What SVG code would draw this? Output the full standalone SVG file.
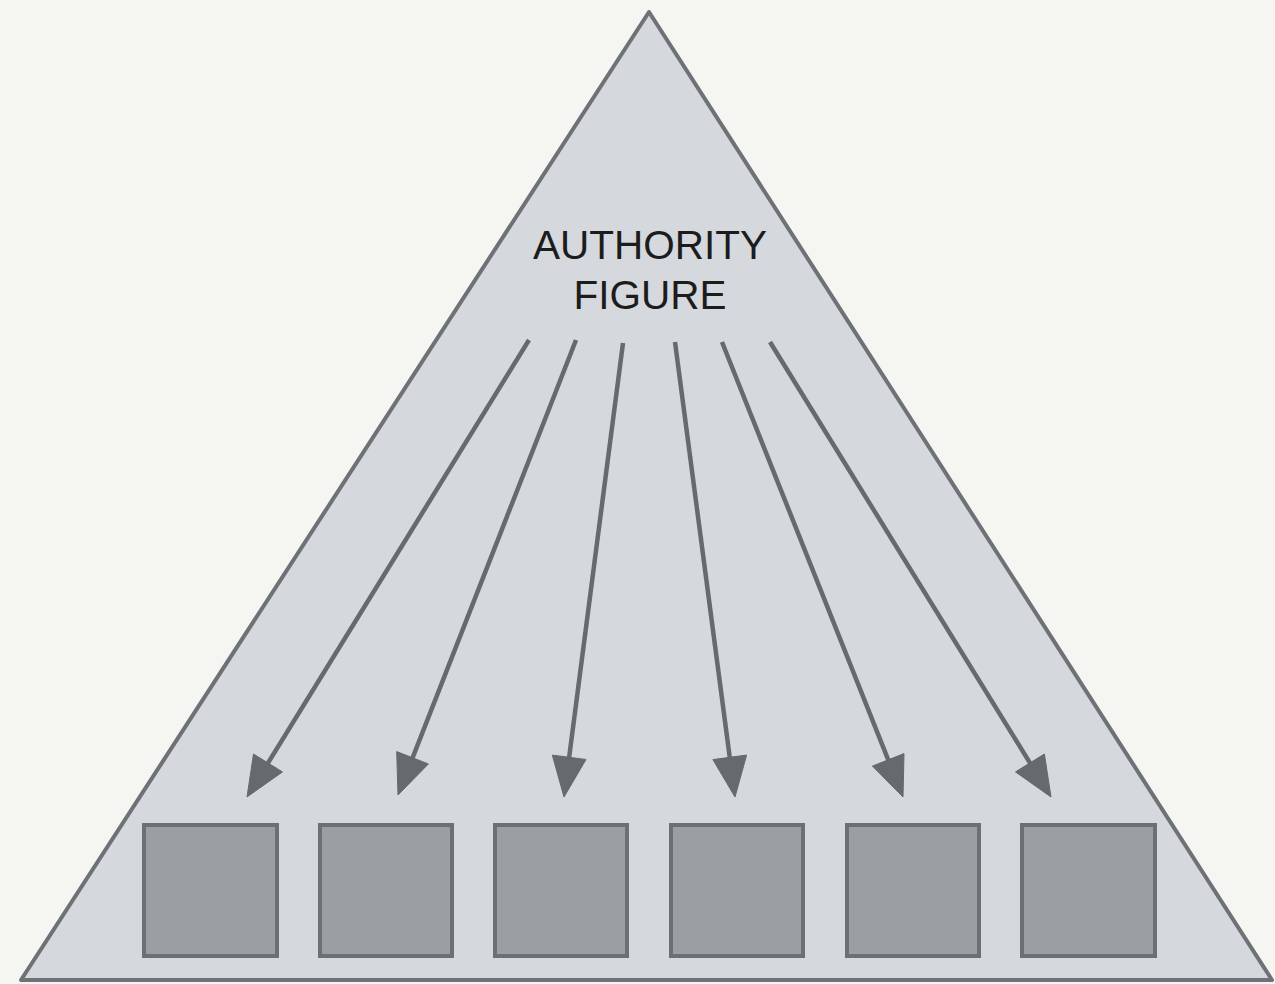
<svg xmlns="http://www.w3.org/2000/svg" width="1275" height="984" viewBox="0 0 1275 984">
<style>
.tri{fill:#d5d8dc;stroke:#6e7175;stroke-width:4;stroke-linejoin:round}
.box{fill:#9b9ea3;stroke:#6c6f73;stroke-width:4}
.arr{stroke:#66696d;stroke-width:4.5;fill:none}
.head{fill:#66696d;stroke:#66696d;stroke-width:1;stroke-linejoin:round}
.lbl{font-family:"Liberation Sans",Arial,sans-serif;font-size:40.5px;fill:#1c1c1c;text-anchor:middle}
</style>
<rect width="1275" height="984" fill="#f5f5f2"/>
<g id="pyramid">
<polygon class="tri" points="649,12 1272,980 21,980"/>
</g>
<g id="authority">
<text class="lbl" x="650" y="259">AUTHORITY</text>
<text class="lbl" x="650" y="309">FIGURE</text>
</g>
<g id="connectors">
<line class="arr" x1="529" y1="340" x2="263.8" y2="769.8"/>
<polygon class="head" points="247,797 282.5,771.9 253.5,754.0"/>
<line class="arr" x1="576" y1="340" x2="409.7" y2="765.2"/>
<polygon class="head" points="398,795 428.4,763.9 396.7,751.6"/>
<line class="arr" x1="623" y1="343" x2="568.1" y2="765.3"/>
<polygon class="head" points="564,797 586.0,759.5 552.3,755.1"/>
<line class="arr" x1="675" y1="342" x2="730.8" y2="765.3"/>
<polygon class="head" points="735,797 746.6,755.1 712.9,759.6"/>
<line class="arr" x1="722" y1="342" x2="891.2" y2="767.3"/>
<polygon class="head" points="903,797 904.0,753.6 872.4,766.1"/>
<line class="arr" x1="770" y1="342" x2="1034.2" y2="769.8"/>
<polygon class="head" points="1051,797 1044.4,754.0 1015.5,771.9"/>
</g>
<g id="member1"><rect class="box" x="144" y="825" width="133" height="131"/></g>
<g id="member2"><rect class="box" x="320" y="825" width="132" height="131"/></g>
<g id="member3"><rect class="box" x="495" y="825" width="132" height="131"/></g>
<g id="member4"><rect class="box" x="671" y="825" width="132" height="131"/></g>
<g id="member5"><rect class="box" x="847" y="825" width="132" height="131"/></g>
<g id="member6"><rect class="box" x="1022" y="825" width="133" height="131"/></g>
</svg>
